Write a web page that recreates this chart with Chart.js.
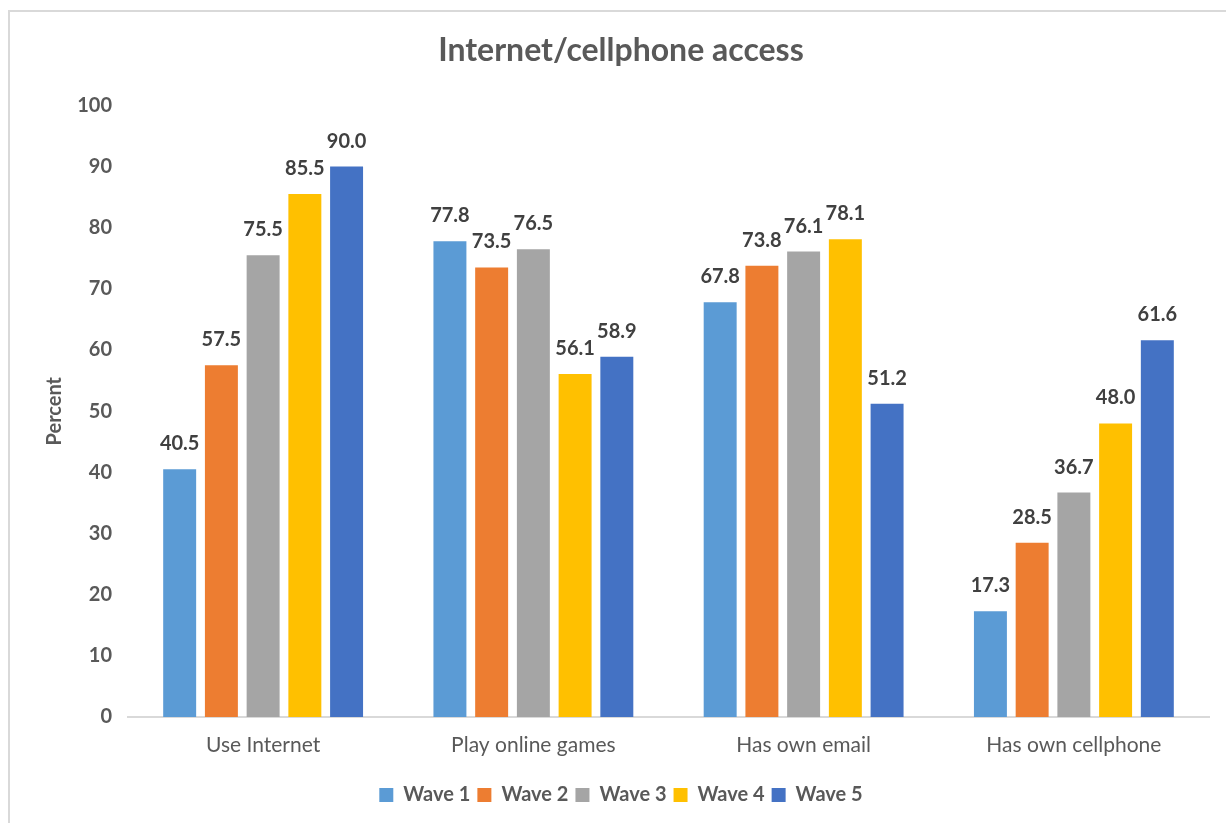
<!DOCTYPE html>
<html>
<head>
<meta charset="utf-8">
<script src="https://cdn.jsdelivr.net/npm/chart.js@4/dist/chart.umd.min.js"></script>
<style>
  html, body { margin: 0; padding: 0; background: #ffffff; }
  #wrap { position: relative; width: 1226px; height: 823px; overflow: hidden; }
  #frame { position: absolute; left: 8px; top: 10px; width: 1400px; height: 1000px;
           border-top: 2px solid #d9d9d9; border-left: 2px solid #d9d9d9; box-sizing: border-box; }
  canvas { position: absolute; left: 0; top: 0; }
</style>
</head>
<body>
<div id="wrap">
  <div id="frame"></div>
  <canvas id="chart" width="1226" height="823"></canvas>
</div>
<script>
// Share of respondents (%) by survey wave
const categories = ['Use Internet', 'Play online games', 'Has own email', 'Has own cellphone'];
const seriesNames = ['Wave 1', 'Wave 2', 'Wave 3', 'Wave 4', 'Wave 5'];
const wave1 = [40.5, 77.8, 67.8, 17.3];
const wave2 = [57.5, 73.5, 73.8, 28.5];
const wave3 = [75.5, 76.5, 76.1, 36.7];
const wave4 = [85.5, 56.1, 78.1, 48.0];
const wave5 = [90.0, 58.9, 51.2, 61.6];
const yTicks = [0, 10, 20, 30, 40, 50, 60, 70, 80, 90, 100];

const colors = ['#5b9bd5', '#ed7d31', '#a5a5a5', '#ffc000', '#4472c4'];
const FONT = 'Lato, "Open Sans", sans-serif';

// Value printed above each bar
const barValueLabels = {
  id: 'barValueLabels',
  afterDatasetsDraw(chart) {
    const ctx = chart.ctx;
    ctx.save();
    ctx.font = 'bold 20px ' + FONT;
    ctx.fillStyle = '#404040';
    ctx.textAlign = 'center';
    ctx.textBaseline = 'alphabetic';
    chart.data.datasets.forEach((ds, i) => {
      const meta = chart.getDatasetMeta(i);
      meta.data.forEach((bar, j) => {
        ctx.fillText(ds.data[j].toFixed(1), bar.x, bar.y - 19);
      });
    });
    ctx.restore();
  }
};

const allSeries = [wave1, wave2, wave3, wave4, wave5];
const LEFT_PAD = 33;

new Chart(document.getElementById('chart'), {
  type: 'bar',
  data: {
    labels: categories,
    datasets: allSeries.map((vals, i) => ({
      label: seriesNames[i],
      data: vals,
      backgroundColor: colors[i],
      borderWidth: 0,
      categoryPercentage: 0.772,
      barPercentage: 0.79
    }))
  },
  options: {
    responsive: false,
    animation: false,
    layout: { padding: { left: LEFT_PAD, right: 17, top: 0, bottom: 8 } },
    plugins: {
      title: {
        display: true,
        text: 'Internet/cellphone access',
        color: '#595959',
        font: { family: FONT, size: 32, weight: 'bold' },
        padding: { top: 31, bottom: 36 }
      },
      legend: {
        position: 'bottom',
        labels: {
          color: '#595959',
          font: { family: FONT, size: 20, weight: 'bold' },
          boxWidth: 14,
          boxHeight: 14,
          padding: 7
        }
      },
      tooltip: { enabled: false }
    },
    scales: {
      x: {
        grid: { display: false, drawTicks: false },
        border: { display: true, color: '#d9d9d9', width: 2 },
        ticks: { color: '#595959', font: { family: FONT, size: 21 }, padding: 16 },
        afterFit(scale) { scale.height = 61; }
      },
      y: {
        min: 0,
        max: 100,
        afterBuildTicks(scale) { scale.ticks = yTicks.map(v => ({ value: v })); },
        grid: { display: false, drawTicks: false },
        border: { display: false },
        ticks: { color: '#595959', font: { family: FONT, size: 20, weight: 'bold' }, padding: 16 },
        title: {
          display: true,
          text: 'Percent',
          color: '#595959',
          font: { family: FONT, size: 20, weight: 'bold' },
          padding: { top: 43 - LEFT_PAD, bottom: 0 }
        },
        afterFit(scale) { scale.width = 128 - LEFT_PAD; }
      }
    }
  },
  plugins: [barValueLabels]
});
</script>
</body>
</html>
